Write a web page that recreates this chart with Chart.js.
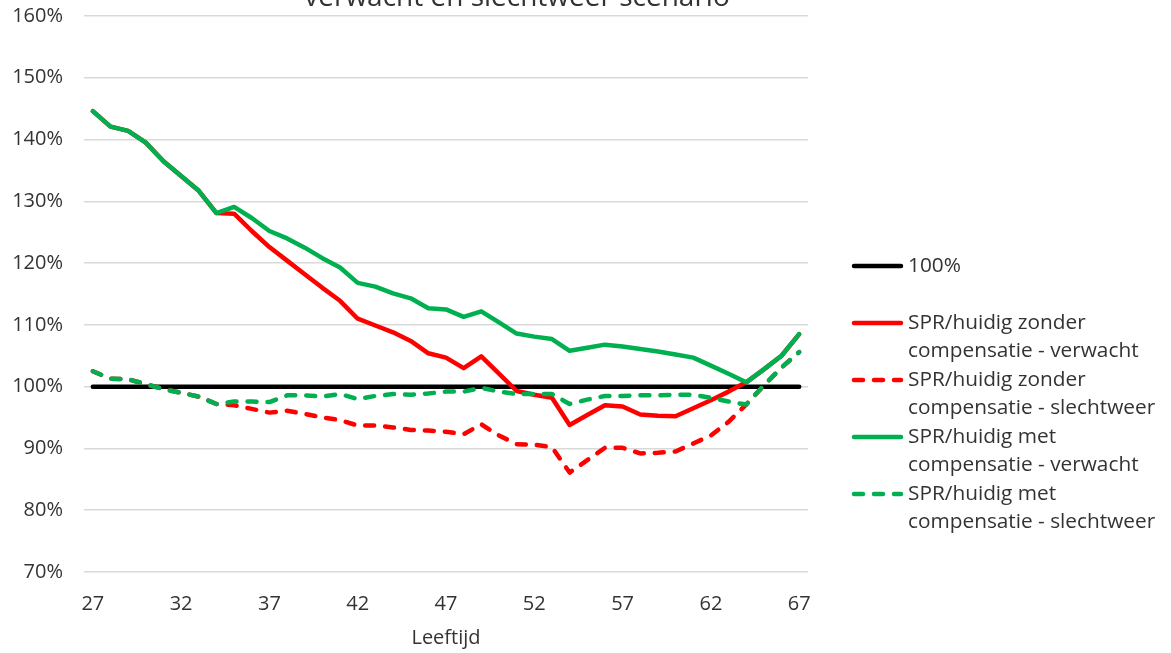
<!DOCTYPE html>
<html><head><meta charset="utf-8">
<script src="https://cdn.jsdelivr.net/npm/chart.js@4.4.1/dist/chart.umd.min.js"></script>
<style>html,body{margin:0;padding:0;background:#fff;overflow:hidden}canvas{display:block}</style>
</head><body>
<canvas id="c" width="1171" height="653"></canvas>
<script>
const ages = [27,28,29,30,31,32,33,34,35,36,37,38,39,40,41,42,43,44,45,46,47,48,49,50,51,52,53,54,55,56,57,58,59,60,61,62,63,64,65,66,67];
const xTickLabels = ['27','32','37','42','47','52','57','62','67'];
const yTicks = [70,80,90,100,110,120,130,140,150,160];

const line100 = [100,100,100,100,100,100,100,100,100,100,100,100,100,100,100,100,100,100,100,100,100,100,100,100,100,100,100,100,100,100,100,100,100,100,100,100,100,100,100,100,100];
const zonderVerwacht = [144.6,142.1,141.4,139.5,136.5,134.1,131.7,128.1,128.0,125.2,122.6,120.4,118.2,116.0,113.9,111.0,109.9,108.8,107.4,105.4,104.7,103.0,104.9,102.1,99.3,98.7,98.2,93.8,95.4,97.0,96.8,95.5,95.3,95.2,96.5,97.8,99.2,100.7,102.8,105.0,108.5];
const zonderSlecht = [102.5,101.3,101.2,100.4,99.6,99.0,98.4,97.2,97.0,96.4,95.8,96.1,95.6,95.0,94.6,93.7,93.7,93.4,93.0,92.9,92.7,92.3,93.9,92.1,90.7,90.6,90.2,86.1,88.1,90.1,90.1,89.2,89.3,89.5,90.8,92.1,94.3,97.1,100.2,103.1,105.6];
const metVerwacht = [144.6,142.1,141.4,139.5,136.5,134.1,131.7,128.1,129.1,127.3,125.2,124.0,122.5,120.8,119.3,116.8,116.2,115.1,114.3,112.7,112.5,111.3,112.2,110.4,108.6,108.1,107.7,105.8,106.3,106.8,106.5,106.1,105.7,105.2,104.7,103.4,102.1,100.7,102.8,105.0,108.5];
const metSlecht = [102.5,101.3,101.2,100.4,99.6,99.0,98.4,97.2,97.6,97.6,97.5,98.6,98.6,98.4,98.8,98.0,98.5,98.8,98.7,98.9,99.2,99.2,99.8,99.2,98.8,98.8,98.8,97.2,97.9,98.5,98.5,98.6,98.6,98.7,98.7,98.2,97.6,97.1,100.2,103.1,105.6];

const seriesNames = ['100%', 'SPR/huidig zonder\ncompensatie - verwacht', 'SPR/huidig zonder\ncompensatie - slechtweer', 'SPR/huidig met\ncompensatie - verwacht', 'SPR/huidig met\ncompensatie - slechtweer'];
const titleText = 'verwacht en slechtweer scenario';
const xTitle = 'Leeftijd';

const FONT = "'Open Sans', sans-serif";
const TXT = '#333333';
const RED = '#FF0000', GREEN = '#00B050', BLACK = '#000000';
const DASH = [9, 11];

function ds(label, data, color, dashed, order) {
  return { label, data, borderColor: color, backgroundColor: color, borderWidth: 4.5,
    borderDash: dashed ? DASH : [], borderCapStyle: 'round', borderJoinStyle: 'round',
    pointRadius: 0, pointHoverRadius: 0, tension: 0, fill: false, order };
}

const sideLegend = {
  id: 'sideLegend',
  afterDraw(chart) {
    const c = chart.ctx;
    const x0 = 852, x1 = 903, tx = 908, y0 = 266, row = 28.5;
    c.save();
    c.font = '20.8px ' + FONT;
    c.textBaseline = 'middle';
    c.textAlign = 'left';
    chart.data.datasets.forEach((d, i) => {
      const y = y0 + i * 2 * row;
      c.strokeStyle = d.borderColor;
      c.lineWidth = 4.5;
      c.lineCap = 'round';
      c.setLineDash(d.borderDash || []);
      c.beginPath(); c.moveTo(x0 + 2, y); c.lineTo(x1 - 2, y); c.stroke();
      c.setLineDash([]);
      c.fillStyle = TXT;
      d.label.split('\n').forEach((t, j) => c.fillText(t, tx, y + j * row));
    });
    c.restore();
  }
};
const topTitle = {
  id: 'topTitle',
  afterDraw(chart) {
    const c = chart.ctx;
    c.save();
    c.font = '28px ' + FONT;
    c.fillStyle = TXT;
    c.textAlign = 'center';
    c.textBaseline = 'alphabetic';
    c.fillText(titleText, 517, 6);
    c.restore();
  }
};

new Chart(document.getElementById('c'), {
  type: 'line',
  data: {
    labels: ages.map(String),
    datasets: [
      ds(seriesNames[0], line100, BLACK, false, 5),
      ds(seriesNames[1], zonderVerwacht, RED, false, 4),
      ds(seriesNames[2], zonderSlecht, RED, true, 3),
      ds(seriesNames[3], metVerwacht, GREEN, false, 2),
      ds(seriesNames[4], metSlecht, GREEN, true, 1)
    ]
  },
  options: {
    responsive: false, animation: false, devicePixelRatio: 1,
    layout: { padding: { top: 16, right: 363, left: 0, bottom: 0 } },
    plugins: { legend: { display: false }, tooltip: { enabled: false }, title: { display: false } },
    scales: {
      x: {
        offset: true,
        grid: { display: false, drawTicks: false },
        border: { display: false },
        ticks: { autoSkip: false, maxRotation: 0, padding: 20, color: TXT, font: { family: FONT, size: 20 },
          callback: (v, i) => xTickLabels.includes(String(ages[i])) ? String(ages[i]) : '' },
        title: { display: true, text: xTitle, color: TXT, font: { family: FONT, size: 20 }, padding: { top: 0, bottom: 3 } },
        afterFit(s) { s.height = 81; s.paddingLeft = 0; s.paddingRight = 0; }
      },
      y: {
        min: yTicks[0], max: yTicks[yTicks.length - 1],
        afterBuildTicks(s) { s.ticks = yTicks.map(v => ({ value: v })); },
        grid: { color: '#D9D9D9', lineWidth: 1.5, drawTicks: false },
        border: { display: false },
        ticks: { padding: 21, color: TXT, font: { family: FONT, size: 20 }, callback: v => v + '%' },
        afterFit(s) { s.width = 84; s.paddingTop = 0; s.paddingBottom = 0; }
      }
    }
  },
  plugins: [sideLegend, topTitle]
});
</script>
</body></html>
